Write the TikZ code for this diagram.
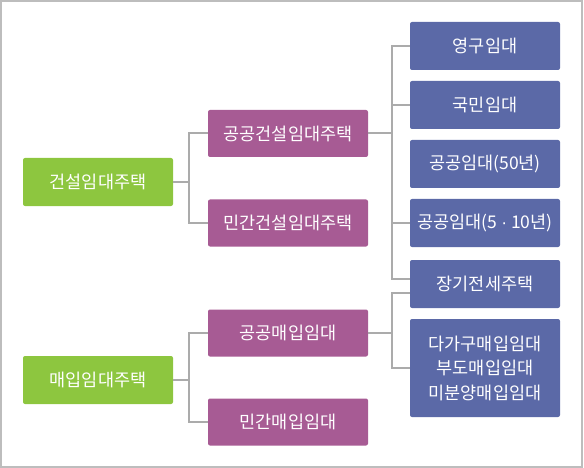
\documentclass[tikz,border=0pt]{standalone}
\usepackage{fontspec}
\setmainfont{Noto Sans CJK KR}
\newfontfamily\dotfont{Liberation Sans}
\definecolor{leafgreen}{HTML}{8DC63F}
\definecolor{plum}{HTML}{A75B94}
\definecolor{slate}{HTML}{5B69A7}
\definecolor{wire}{HTML}{ABABAB}
\definecolor{frame}{HTML}{BDBDBD}
\tikzset{
  box/.style={rounded corners=2pt, text=white, inner sep=0pt, align=center,
              font=\fontsize{17.5}{24.5}\selectfont},
  rootbox/.style={box, fill=leafgreen, minimum width=150pt, minimum height=48pt},
  midbox/.style={box, fill=plum, minimum width=160pt, minimum height=47pt},
  leafbox/.style={box, fill=slate, minimum width=150pt, minimum height=48pt},
  link/.style={wire, line width=2pt}
}
\begin{document}
\begin{tikzpicture}[x=1pt, y=-1pt]

    % Frame
    \useasboundingbox (0,0) rectangle (584,468);
    \draw[frame, line width=1.2pt] (1,1) rectangle (582,467);

    % Left column
    \node[rootbox] (gj) at (98,182) {건설임대주택};
    \node[rootbox] (mj) at (98,380) {매입임대주택};

    % Middle column
    \node[midbox] (pgj) at (288,133.5) {공공건설임대주택};
    \node[midbox] (mgj) at (288,223)   {민간건설임대주택};
    \node[midbox] (pmi) at (288,333)   {공공매입임대};
    \node[midbox] (mmi) at (288,422)   {민간매입임대};

    % Right column
    \node[leafbox] (yg) at (485,46)  {영구임대};
    \node[leafbox] (km) at (485,105) {국민임대};
    \node[leafbox] (g50) at (485,164) {공공임대(50년)};
    \node[leafbox] (g10) at (485,223) {공공임대(5 {\dotfont·} 10년)};
    \node[leafbox] (jg) at (485,284) {장기전세주택};
    \node[leafbox, minimum height=98pt] (dm) at (485,368)
        {다가구매입임대\\부도매입임대\\미분양매입임대};

    % Connectors
    \foreach \a/\b in {gj/pgj, gj/mgj, mj/pmi, mj/mmi}
        \draw[link] (\a.east) -- ++(16,0) |- (\b.west);

    \foreach \b in {yg, km, g10}
        \draw[link] (pgj.east) -- ++(24,0) |- (\b.west);
    \draw[link] (pgj.east) -- ++(24,0) |- ([yshift=5pt]jg.west);

    \draw[link] (pmi.east) -- ++(24,0) |- ([yshift=-9pt]jg.west);
    \draw[link] (pmi.east) -- ++(24,0) |- (dm.west);

\end{tikzpicture}
\end{document}
